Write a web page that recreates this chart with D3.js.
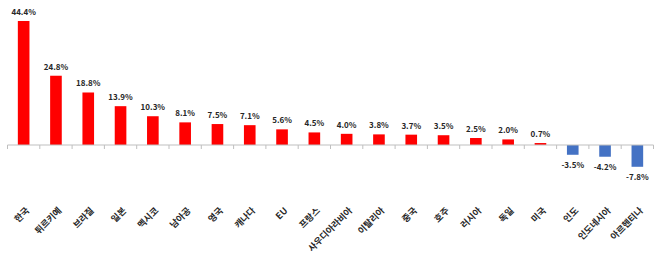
<!DOCTYPE html>
<html>
<head>
<meta charset="utf-8">
<script src="https://cdn.jsdelivr.net/npm/d3@7"></script>
<style>
  body { margin: 0; background: #fff; }
  text { font-family: "Noto Sans CJK KR", "Noto Sans", sans-serif; fill: #262626; }
</style>
</head>
<body>
<div id="chart"></div>
<script>
const countries = ["한국", "튀르키예", "브라질", "일본", "멕시코", "남아공", "영국", "캐나다", "EU", "프랑스",
  "사우디아라비아", "이탈리아", "중국", "호주", "러시아", "독일", "미국", "인도", "인도네시아", "아르헨티나"];
const values = [44.4, 24.8, 18.8, 13.9, 10.3, 8.1, 7.5, 7.1, 5.6, 4.5,
  4.0, 3.8, 3.7, 3.5, 2.5, 2.0, 0.7, -3.5, -4.2, -7.8];

const width = 661, height = 266;
const left = 7.5, right = 653.5;

const svg = d3.select("#chart")
  .append("svg")
  .attr("width", width)
  .attr("height", height);

const x = d3.scaleBand()
  .domain(countries)
  .range([left, right])
  .paddingInner(0.64)
  .paddingOuter(0.32);

// zero line at 145, 44.4 reaches y=21
const y = d3.scaleLinear()
  .domain([-10, 50])
  .range([145 + 10 * 2.793, 145 - 50 * 2.793]);

const data = countries.map((c, i) => ({ name: c, value: values[i] }));

svg.selectAll(".bar")
  .data(data)
  .join("rect")
  .attr("class", "bar")
  .attr("x", d => x(d.name))
  .attr("width", x.bandwidth())
  .attr("y", d => y(Math.max(0, d.value)))
  .attr("height", d => Math.abs(y(d.value) - y(0)))
  .attr("fill", d => d.value >= 0 ? "#ff0000" : "#4472c4");

// axis line and ticks at category boundaries
const step = x.step();
const x0 = left;
svg.append("line")
  .attr("x1", left).attr("x2", right)
  .attr("y1", y(0)).attr("y2", y(0))
  .attr("stroke", "#bfbfbf").attr("stroke-width", 1);

svg.selectAll(".tick")
  .data(d3.range(countries.length + 1))
  .join("line")
  .attr("class", "tick")
  .attr("x1", i => x0 + i * step).attr("x2", i => x0 + i * step)
  .attr("y1", y(0)).attr("y2", y(0) + 4)
  .attr("stroke", "#bfbfbf");

// value labels
svg.selectAll(".val")
  .data(data)
  .join("text")
  .attr("class", "val")
  .attr("x", d => x(d.name) + x.bandwidth() / 2)
  .attr("y", d => d.value >= 0 ? y(d.value) - 6 : y(d.value) + 13)
  .attr("text-anchor", "middle")
  .attr("font-size", "8px")
  .attr("font-weight", "bold")
  .text(d => d.value.toFixed(1) + "%");

// category labels, rotated
svg.selectAll(".cat")
  .data(countries)
  .join("text")
  .attr("class", "cat")
  .attr("transform", d => `translate(${x(d) + x.bandwidth() / 2 + 4},209) rotate(-45)`)
  .attr("text-anchor", "end")
  .attr("dy", "0.35em")
  .attr("font-size", "9px")
  .attr("font-weight", "bold")
  .text(d => d);
</script>
</body>
</html>
